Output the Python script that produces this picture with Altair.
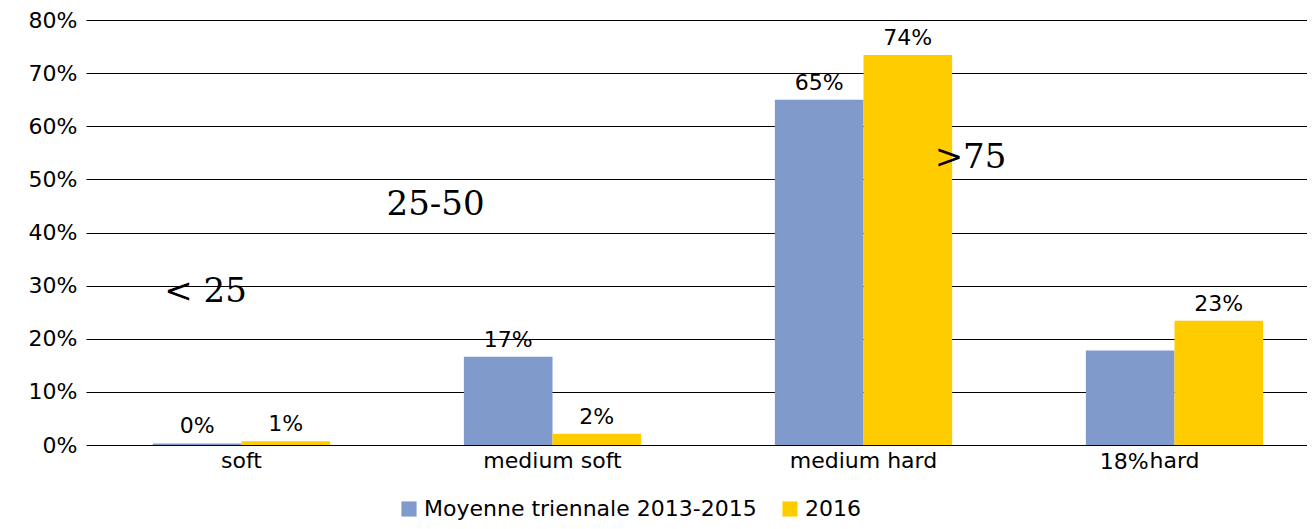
import altair as alt
import pandas as pd

categories = ["soft", "medium soft", "medium hard", "hard"]
series = ["Moyenne triennale 2013-2015", "2016"]
moyenne = [0.003, 0.166, 0.650, 0.178]
y2016 = [0.007, 0.021, 0.734, 0.234]
labels_moyenne = ["0%", "17%", "65%", "18%"]
labels_2016 = ["1%", "2%", "74%", "23%"]
label_below = [False, False, False, True]

annot_text = ["< 25", "25-50", ">75"]
annot_cat = ["soft", "medium soft", "medium hard"]
annot_y = [0.288, 0.452, 0.54]
annot_dx = [-36, -117, 107]

rows = []
for i, c in enumerate(categories):
    rows.append({"cat": c, "series": series[0], "value": moyenne[i],
                 "label": labels_moyenne[i], "below": label_below[i]})
    rows.append({"cat": c, "series": series[1], "value": y2016[i],
                 "label": labels_2016[i], "below": False})
df = pd.DataFrame(rows)

FONT = "DejaVu Sans"
FS = 22

xscale = alt.Scale(range=[0, 1244], paddingInner=0.43, paddingOuter=0.215)
xenc = alt.X("cat:N", sort=categories, title=None, scale=xscale,
             axis=alt.Axis(labelAngle=0, domain=False, ticks=False,
                           labelPadding=5, labelFontSize=FS, labelFont=FONT,
                           labelColor="black"))
xoff = alt.XOffset("series:N", sort=series)

base = alt.Chart(df)

bars = base.mark_bar().encode(
    x=xenc,
    xOffset=xoff,
    y=alt.Y("value:Q", title=None,
            scale=alt.Scale(domain=[0, 0.8], nice=False),
            axis=alt.Axis(format=".0%", values=[0, 0.1, 0.2, 0.3, 0.4, 0.5, 0.6, 0.7, 0.8],
                          domain=False, ticks=False, labelPadding=9,
                          labelFontSize=FS, labelFont=FONT, labelColor="black",
                          gridColor="black", gridWidth=1, gridOpacity=1)),
    color=alt.Color("series:N", sort=series,
                    scale=alt.Scale(domain=series, range=["#7f9acb", "#ffcc00"]),
                    legend=alt.Legend(title=None, orient="none", direction="horizontal",
                                      legendX=312, legendY=478,
                                      symbolType="square", symbolSize=230,
                                      symbolStrokeWidth=0, labelLimit=0,
                                      labelFontSize=FS, labelFont=FONT,
                                      labelColor="black", columnPadding=22)),
)

labels_above = base.transform_filter("!datum.below").mark_text(
    baseline="bottom", dy=-5, fontSize=FS, font=FONT, color="black"
).encode(x=xenc, xOffset=xoff, y="value:Q", text="label:N")

labels_low = base.transform_filter("datum.below").mark_text(
    baseline="middle", dy=17, dx=-6, fontSize=FS, font=FONT, color="black"
).encode(x=xenc, xOffset=xoff, y=alt.datum(0), text="label:N")

layers = [bars, labels_above, labels_low]
for t, c, yv, dx in zip(annot_text, annot_cat, annot_y, annot_dx):
    adf = pd.DataFrame({"cat": [c], "value": [yv], "text": [t]})
    layers.append(
        alt.Chart(adf).mark_text(font="DejaVu Serif", fontSize=34, color="black",
                                 dx=dx, baseline="middle").encode(
            x=alt.X("cat:N", sort=categories, scale=xscale),
            y="value:Q",
            text="text:N",
        )
    )

chart = alt.layer(*layers).properties(
    width=1221, height=425,
    padding={"left": 78, "top": 12, "right": 0, "bottom": 76},
    autosize=alt.AutoSizeParams(type="none"),
).configure_view(stroke=None).configure_axis(gridDash=[])

chart.save("out.html", embed_options={"renderer": "svg", "actions": False})
